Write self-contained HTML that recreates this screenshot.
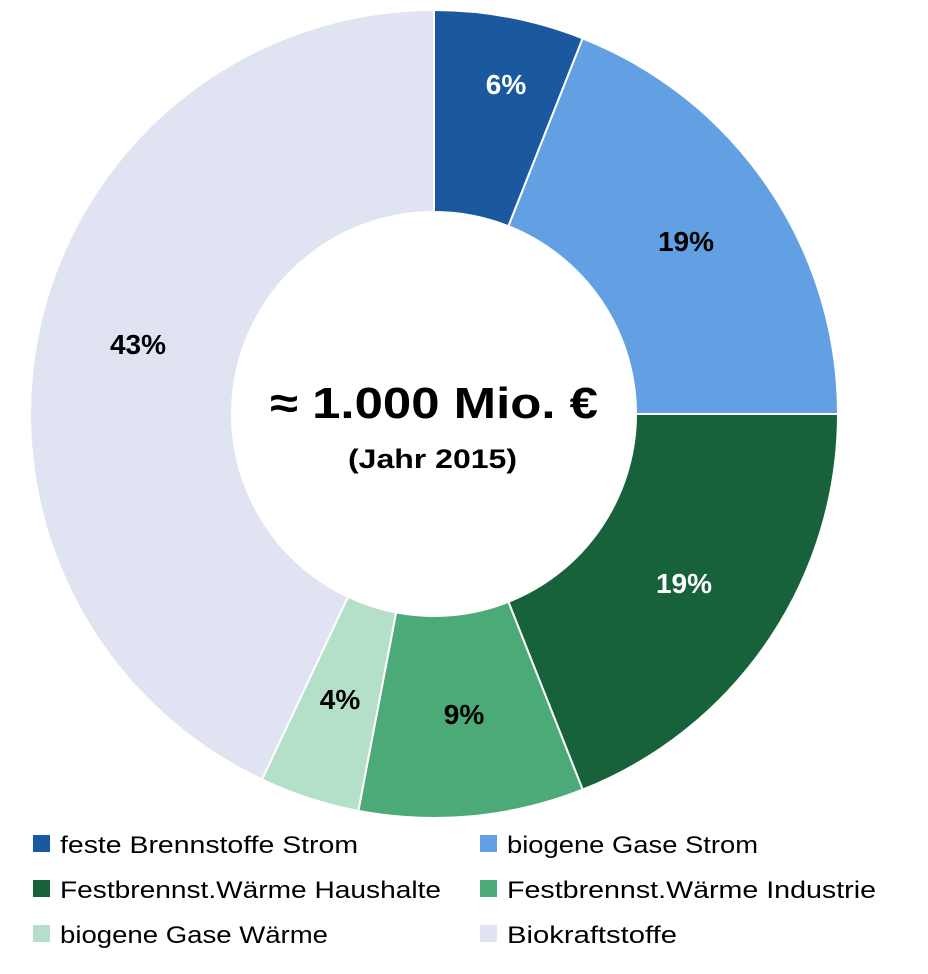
<!DOCTYPE html>
<html><head><meta charset="utf-8"><style>
html,body{margin:0;padding:0;background:#fff;}
svg text{font-family:"Liberation Sans",sans-serif;}
</style></head><body>
<svg width="928" height="969" viewBox="0 0 928 969" xmlns="http://www.w3.org/2000/svg">
<g stroke="#fff" stroke-width="2">
<path d="M434,10 A404,404 0 0 1 582.7,38.4 L508.4,226.2 A202,202 0 0 0 434,212 Z" fill="#1a589f"/>
<path d="M582.7,38.4 A404,404 0 0 1 838,414 L636,414 A202,202 0 0 0 508.4,226.2 Z" fill="#62a0e3"/>
<path d="M838,414 A404,404 0 0 1 582.7,789.6 L508.4,601.8 A202,202 0 0 0 636,414 Z" fill="#17623a"/>
<path d="M582.7,789.6 A404,404 0 0 1 358.3,810.9 L396.1,612.4 A202,202 0 0 0 508.4,601.8 Z" fill="#4caa78"/>
<path d="M358.3,810.9 A404,404 0 0 1 262,779.5 L348,596.8 A202,202 0 0 0 396.1,612.4 Z" fill="#b4dfc8"/>
<path d="M262,779.5 A404,404 0 0 1 434,10 L434,212 A202,202 0 0 0 348,596.8 Z" fill="#e0e3f2"/>
</g>
<g font-size="28" font-weight="bold" text-anchor="middle">
<text x="506" y="94" fill="#fff">6%</text>
<text x="686" y="251" fill="#000">19%</text>
<text x="684" y="593" fill="#fff">19%</text>
<text x="464" y="724" fill="#000">9%</text>
<text x="340" y="709" fill="#000">4%</text>
<text x="138" y="354" fill="#000">43%</text>
</g>
<text x="270" y="418" font-size="44" font-weight="bold" textLength="328" lengthAdjust="spacingAndGlyphs">≈ 1.000 Mio. €</text>
<text x="348" y="468" font-size="27" font-weight="bold" textLength="169" lengthAdjust="spacingAndGlyphs">(Jahr 2015)</text>
<g font-size="24" fill="#000">
<rect x="33" y="835" width="17" height="17" fill="#1a589f"/><text x="60" y="853" textLength="298" lengthAdjust="spacingAndGlyphs">feste Brennstoffe Strom</text>
<rect x="480" y="835" width="17" height="17" fill="#62a0e3"/><text x="507" y="853" textLength="251" lengthAdjust="spacingAndGlyphs">biogene Gase Strom</text>
<rect x="33" y="880" width="17" height="17" fill="#17623a"/><text x="60" y="898" textLength="381" lengthAdjust="spacingAndGlyphs">Festbrennst.Wärme Haushalte</text>
<rect x="480" y="880" width="17" height="17" fill="#4caa78"/><text x="507" y="898" textLength="369" lengthAdjust="spacingAndGlyphs">Festbrennst.Wärme Industrie</text>
<rect x="33" y="925" width="17" height="17" fill="#b4dfc8"/><text x="60" y="943" textLength="268" lengthAdjust="spacingAndGlyphs">biogene Gase Wärme</text>
<rect x="480" y="925" width="17" height="17" fill="#e0e3f2"/><text x="507" y="943" textLength="170" lengthAdjust="spacingAndGlyphs">Biokraftstoffe</text>
</g>
</svg>
</body></html>
